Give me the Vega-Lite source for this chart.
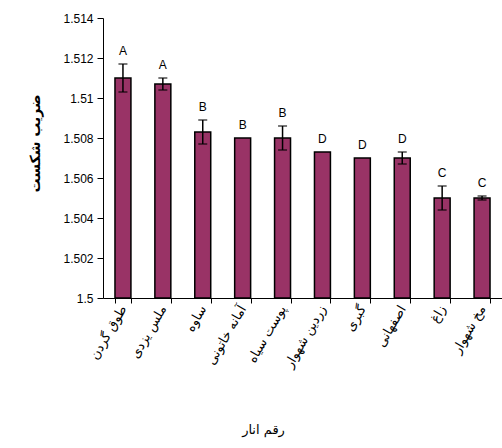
{
  "$schema": "https://vega.github.io/schema/vega-lite/v6.json",
  "width": 399,
  "height": 280,
  "autosize": "none",
  "padding": {"left": 103, "top": 18, "right": 0, "bottom": 150},
  "background": "white",
  "config": {
    "view": {"stroke": null},
    "axis": {"grid": false},
    "axisY": {"tickCount": 8, "format": ".4~r", "labelOverlap": false, "labelFont": "Liberation Sans", "labelFontSize": 12, "labelColor": "black", "labelPadding": 4, "domainColor": "black", "tickColor": "black", "tickSize": 6}
  },
  "data": {
    "values": [
      {"name": "طوق گردن", "mean": 1.511, "lo": 1.5103, "hi": 1.5117, "letter": "A"},
      {"name": "ملس یزدی", "mean": 1.5107, "lo": 1.5104, "hi": 1.511, "letter": "A"},
      {"name": "ساوه", "mean": 1.5083, "lo": 1.5077, "hi": 1.5089, "letter": "B"},
      {"name": "آمانه خاتونی", "mean": 1.508, "lo": 1.508, "hi": 1.508, "letter": "B"},
      {"name": "پوست سیاه", "mean": 1.508, "lo": 1.5074, "hi": 1.5086, "letter": "B"},
      {"name": "زردین شهوار", "mean": 1.5073, "lo": 1.5073, "hi": 1.5073, "letter": "D"},
      {"name": "گبری", "mean": 1.507, "lo": 1.507, "hi": 1.507, "letter": "D"},
      {"name": "اصفهانی", "mean": 1.507, "lo": 1.5067, "hi": 1.5073, "letter": "D"},
      {"name": "زاغ", "mean": 1.505, "lo": 1.5044, "hi": 1.5056, "letter": "C"},
      {"name": "مخ شهوار", "mean": 1.505, "lo": 1.5049, "hi": 1.5051, "letter": "C"}
    ]
  },
  "encoding": {
    "x": {
      "field": "name", "type": "nominal", "sort": null,
      "scale": {"paddingInner": 0.6, "paddingOuter": 0.3},
      "axis": {
        "title": "رقم انار", "titleFont": "DejaVu Sans", "titleFontSize": 13, "titleFontWeight": "normal",
        "titleColor": "black", "titleY": 125, "titleX": 160,
        "labelFont": "DejaVu Sans", "labelFontSize": 13, "labelColor": "black",
        "labelAngle": -60, "labelAlign": "right", "labelBaseline": "middle", "labelPadding": 3,
        "labelOverlap": false,
        "domainColor": "black", "tickColor": "black", "tickBand": "extent", "tickSize": 5
      }
    }
  },
  "layer": [
    {
      "mark": {"type": "bar", "color": "#993366", "stroke": "black", "strokeWidth": 1.5},
      "encoding": {
        "y": {
          "field": "mean", "type": "quantitative",
          "scale": {"domain": [1.5, 1.514], "zero": false, "nice": false},
          "axis": {
            "title": "ضریب شکست", "titleFont": "DejaVu Sans", "titleFontSize": 14, "titleFontWeight": "bold",
            "titleColor": "black", "titlePadding": 20, "titleY": 125
          }
        },
        "y2": {"datum": 1.5}
      }
    },
    {
      "transform": [{"filter": "datum.hi > datum.lo"}],
      "mark": {"type": "rule", "color": "black", "strokeWidth": 1.5},
      "encoding": {"y": {"field": "lo", "type": "quantitative"}, "y2": {"field": "hi"}}
    },
    {
      "transform": [{"filter": "datum.hi > datum.lo"}],
      "mark": {"type": "tick", "color": "black", "thickness": 1.5, "size": 9},
      "encoding": {"y": {"field": "lo", "type": "quantitative"}}
    },
    {
      "transform": [{"filter": "datum.hi > datum.lo"}],
      "mark": {"type": "tick", "color": "black", "thickness": 1.5, "size": 9},
      "encoding": {"y": {"field": "hi", "type": "quantitative"}}
    },
    {
      "mark": {"type": "text", "font": "Liberation Sans", "fontSize": 12, "color": "black", "baseline": "bottom", "dy": -6},
      "encoding": {"y": {"field": "hi", "type": "quantitative"}, "text": {"field": "letter"}}
    }
  ]
}
